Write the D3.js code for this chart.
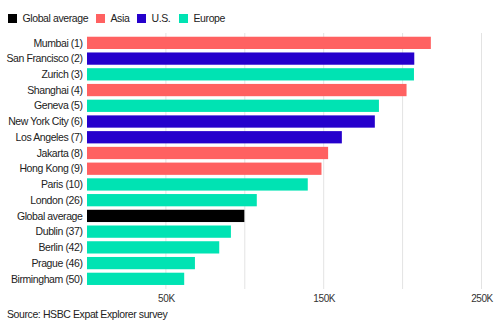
<!DOCTYPE html>
<html>
<head>
<meta charset="utf-8">
<script src="https://cdn.jsdelivr.net/npm/d3@7"></script>
<style>
  body { margin: 0; background: #fff; }
  svg { display: block; font-family: "Liberation Sans", Arial, sans-serif; }
  svg text { letter-spacing: -0.4px; }
</style>
</head>
<body>
<script>
const cities = ['Mumbai (1)', 'San Francisco (2)', 'Zurich (3)', 'Shanghai (4)', 'Geneva (5)',
                'New York City (6)', 'Los Angeles (7)', 'Jakarta (8)', 'Hong Kong (9)', 'Paris (10)',
                'London (26)', 'Global average', 'Dublin (37)', 'Berlin (42)', 'Prague (46)',
                'Birmingham (50)'];
const regions = ['Asia', 'U.S.', 'Europe', 'Asia', 'Europe',
                 'U.S.', 'U.S.', 'Asia', 'Asia', 'Europe',
                 'Europe', 'Global average', 'Europe', 'Europe', 'Europe',
                 'Europe'];
const salaries = [217900, 207400, 207200, 202500, 185000,
                  182400, 161500, 152800, 148600, 139900,
                  107600, 99700, 91200, 83800, 68400,
                  61600];
const legendNames = ['Global average', 'Asia', 'U.S.', 'Europe'];
const legendColors = ['#000000', '#ff6161', '#2500cc', '#00e3b3'];
const gridTicks = [50000, 100000, 150000, 200000, 250000];
const labelTicks = [50000, 150000, 250000];

const width = 500, height = 323;
const fontSize = 10.5;
const color = d3.scaleOrdinal(legendNames, legendColors);

const svg = d3.select('body')
  .append('svg')
  .attr('width', width)
  .attr('height', height);

const x = d3.scaleLinear()
  .domain([0, 250000])
  .range([87, 481.5]);

const y = d3.scaleBand()
  .domain(cities)
  .range([35, 286.7])
  .paddingInner(0.22)
  .paddingOuter(0.11);

// legend
const legend = svg.append('g').attr('class', 'legend');
const legendX = [8, 96, 137, 179];
legendNames.forEach((name, i) => {
  const g = legend.append('g').attr('transform', `translate(${legendX[i]},14)`);
  g.append('rect')
    .attr('width', 9)
    .attr('height', 9)
    .attr('fill', legendColors[i]);
  g.append('text')
    .attr('x', 14.5)
    .attr('y', 8)
    .attr('font-size', fontSize)
    .attr('fill', '#222')
    .text(name);
});

// grid lines
svg.append('g')
  .selectAll('line')
  .data(gridTicks)
  .join('line')
  .attr('x1', (d) => x(d))
  .attr('x2', (d) => x(d))
  .attr('y1', 33)
  .attr('y2', 289)
  .attr('stroke', '#e3e3e3')
  .attr('stroke-width', 1);

// bars
svg.append('g')
  .selectAll('rect')
  .data(cities)
  .join('rect')
  .attr('x', x(0))
  .attr('y', (d) => y(d))
  .attr('width', (d, i) => x(salaries[i]) - x(0))
  .attr('height', y.bandwidth())
  .attr('fill', (d, i) => color(regions[i]));

// category labels
svg.append('g')
  .selectAll('text')
  .data(cities)
  .join('text')
  .attr('x', 82.5)
  .attr('y', (d) => y(d) + y.bandwidth() / 2)
  .attr('dy', '0.35em')
  .attr('text-anchor', 'end')
  .attr('font-size', fontSize)
  .attr('fill', '#222')
  .text((d) => d);

// x axis labels
const xAxis = d3.axisBottom(x)
  .tickValues(labelTicks)
  .tickFormat((d) => d / 1000 + 'K')
  .tickSize(0)
  .tickPadding(0);

svg.append('g')
  .attr('transform', 'translate(0,294.5)')
  .call(xAxis)
  .call((g) => g.select('.domain').remove())
  .call((g) => g.selectAll('text')
    .attr('font-size', 10)
    .attr('fill', '#333')
    .attr('font-family', '"Liberation Sans", Arial, sans-serif'));

// source
svg.append('text')
  .attr('x', 7)
  .attr('y', 317.5)
  .attr('font-size', fontSize)
  .attr('fill', '#222')
  .text('Source: HSBC Expat Explorer survey');
</script>
</body>
</html>
